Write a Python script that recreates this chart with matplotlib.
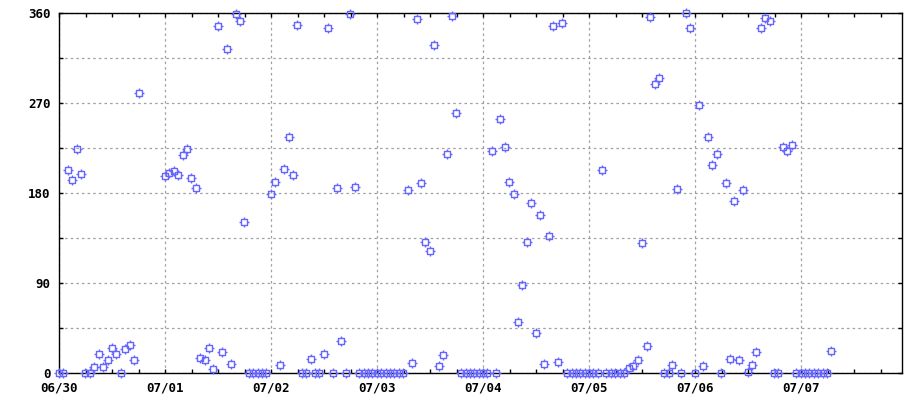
import matplotlib
matplotlib.use("Agg")
import matplotlib.pyplot as plt
from matplotlib.path import Path
from matplotlib.ticker import FixedLocator, MultipleLocator

# ---- data (days since 06/30 00:00, direction in degrees) ----
days = [0.000, 0.038, 0.088, 0.126, 0.173, 0.208, 0.248, 0.292, 0.333, 0.380,
        0.418, 0.462, 0.503, 0.541, 0.588, 0.626, 0.673, 0.711, 0.752,
        1.003, 1.038, 1.085, 1.126, 1.173, 1.211, 1.245, 1.296, 1.333, 1.380,
        1.418, 1.456, 1.503, 1.541, 1.588, 1.626, 1.673, 1.711, 1.748,
        1.796, 1.834, 1.875, 1.915, 1.953,
        2.003, 2.041, 2.088, 2.126, 2.173, 2.211, 2.248, 2.296, 2.333, 2.377,
        2.415, 2.456, 2.500, 2.541, 2.588, 2.626, 2.664, 2.711, 2.748, 2.796,
        2.833, 2.875, 2.915, 2.956, 2.997, 3.041, 3.082, 3.123, 3.164, 3.208, 3.248,
        3.296, 3.333, 3.380, 3.418, 3.456, 3.503, 3.541, 3.588, 3.626, 3.664,
        3.711, 3.748,
        3.796, 3.837, 3.877, 3.918, 3.959, 4.000, 4.041,
        4.088, 4.126, 4.164, 4.211, 4.248, 4.295, 4.333, 4.371, 4.418, 4.456,
        4.503, 4.541, 4.579, 4.626, 4.664, 4.711, 4.748,
        4.796, 4.837, 4.877, 4.918, 4.959, 5.000, 5.041, 5.082,
        5.126, 5.160, 5.205, 5.248, 5.292, 5.333,
        5.374, 5.418, 5.459, 5.503, 5.544, 5.573, 5.620, 5.663, 5.710, 5.752,
        5.786, 5.833, 5.871, 5.918, 5.956,
        6.003, 6.041, 6.078, 6.126, 6.164, 6.211, 6.248, 6.295, 6.333, 6.371,
        6.418, 6.456, 6.503, 6.541, 6.579, 6.625, 6.663, 6.710, 6.742, 6.783,
        6.833, 6.871, 6.918,
        6.956, 6.997, 7.038, 7.078, 7.123, 7.163, 7.204, 7.245, 7.286]

values = [0, 0, 203, 193, 224, 199, 0, 0, 6, 19,
          6, 13, 25, 19, 0, 24, 28, 13, 280,
          197, 200, 202, 198, 218, 224, 195, 185, 15, 13,
          25, 4, 347, 21, 324, 9, 359, 352, 151,
          0, 0, 0, 0, 0,
          179, 191, 8, 204, 236, 198, 348, 0, 0, 14,
          0, 0, 19, 345, 0, 185, 32, 0, 359, 186,
          0, 0, 0, 0, 0, 0, 0, 0, 0, 0, 0,
          183, 10, 354, 190, 131, 122, 328, 7, 18, 219,
          357, 260,
          0, 0, 0, 0, 0, 0, 0,
          222, 0, 254, 226, 191, 179, 51, 88, 131, 170,
          40, 158, 9, 137, 347, 11, 350,
          0, 0, 0, 0, 0, 0, 0, 0,
          203, 0, 0, 0, 0, 0,
          5, 7, 13, 130, 27, 356, 289, 295, 0, 0,
          8, 184, 0, 360, 345,
          0, 268, 7, 236, 208, 219, 0, 190, 14, 172,
          13, 183, 1, 8, 21, 345, 355, 352, 0, 0,
          226, 222, 228,
          0, 0, 0, 0, 0, 0, 0, 0, 22]

x_tick_labels = ["06/30", "07/01", "07/02", "07/03", "07/04", "07/05", "07/06", "07/07"]
y_tick_values = [0, 45, 90, 135, 180, 225, 270, 315, 360]

# ---- marker: open square with small ticks at side midpoints ----
s, t = 0.55, 1.0
verts = [(-s, -s), (s, -s), (s, s), (-s, s), (-s, -s),
         (0, s), (0, t), (0, -s), (0, -t), (s, 0), (t, 0), (-s, 0), (-t, 0)]
codes = [Path.MOVETO, Path.LINETO, Path.LINETO, Path.LINETO, Path.CLOSEPOLY,
         Path.MOVETO, Path.LINETO, Path.MOVETO, Path.LINETO,
         Path.MOVETO, Path.LINETO, Path.MOVETO, Path.LINETO]
marker = Path(verts, codes)

fig = plt.figure(figsize=(9.2, 4.0), dpi=100)
ax = fig.add_axes([59 / 920, 27 / 400, 843 / 920, 360 / 400])

ax.plot(days, values, linestyle="none", marker=marker, markersize=7.0,
        markerfacecolor="none", markeredgecolor="#6666ff", markeredgewidth=1.0,
        zorder=3, clip_on=False)

ax.set_xlim(0, 843 / 106)
ax.set_ylim(0, 360)

ax.xaxis.set_major_locator(FixedLocator(list(range(len(x_tick_labels)))))
ax.set_xticklabels(x_tick_labels)
ax.xaxis.set_minor_locator(MultipleLocator(0.25))
ax.yaxis.set_major_locator(FixedLocator(y_tick_values))
ax.set_yticklabels([str(v) if v % 90 == 0 else "" for v in y_tick_values])

font = dict(family="DejaVu Sans Mono", weight="bold", size=9)
for lab in ax.get_xticklabels() + ax.get_yticklabels():
    lab.set_fontfamily(font["family"])
    lab.set_fontweight(font["weight"])
    lab.set_fontsize(font["size"])

ax.tick_params(axis="both", which="both", direction="in", top=True, right=True,
               length=3, width=1.0, color="black")
ax.tick_params(axis="x", which="major", pad=6)
ax.tick_params(axis="y", which="major", pad=6)

ax.grid(True, which="major", color="#a0a0a0", linestyle=(0, (2, 2.5)), linewidth=0.9)
ax.set_axisbelow(True)
for sp in ax.spines.values():
    sp.set_linewidth(1.0)
    sp.set_color("black")

fig.savefig("out.png", dpi=100)
